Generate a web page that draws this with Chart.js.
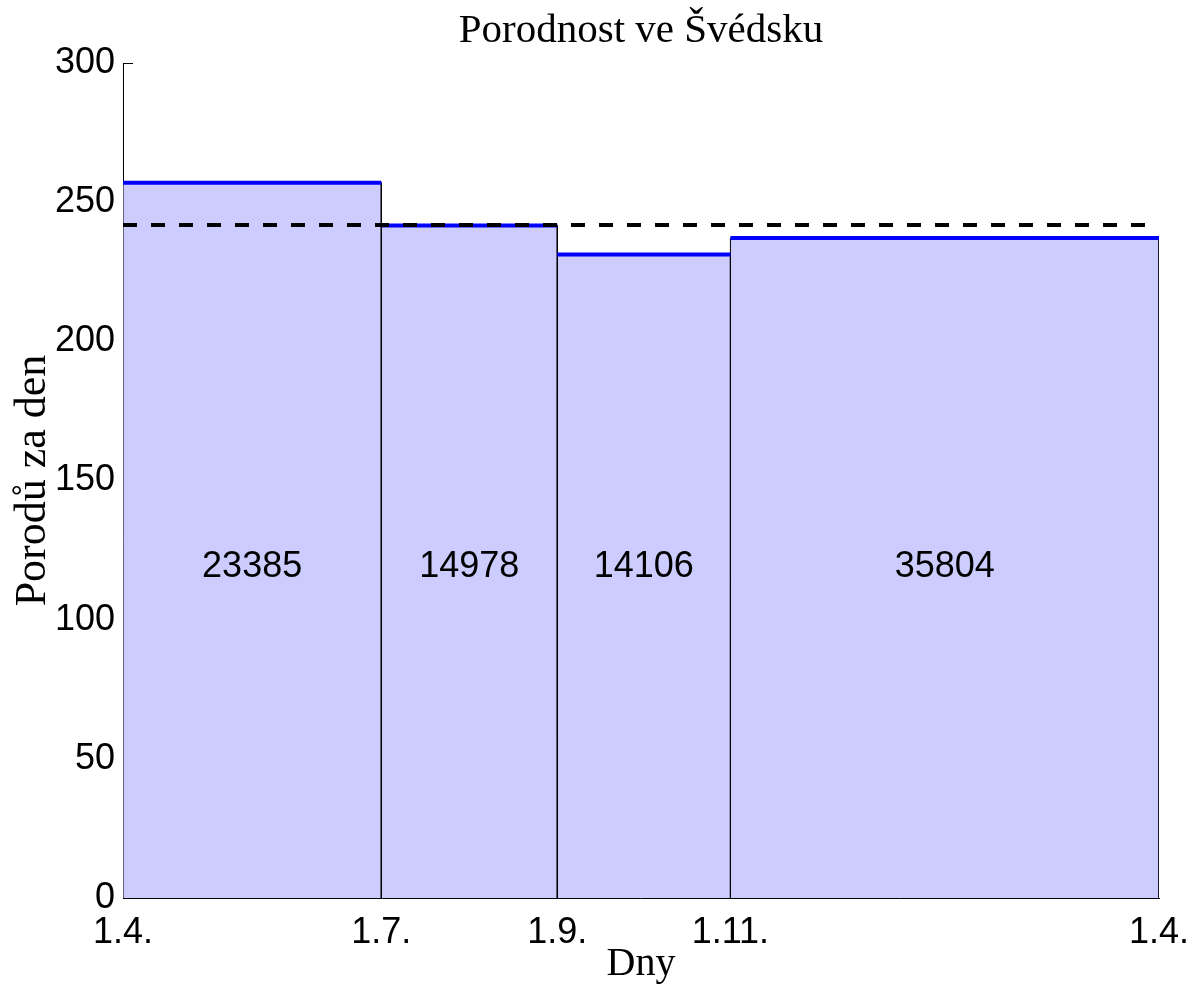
<!DOCTYPE html>
<html>
<head>
<meta charset="utf-8">
<script src="https://cdn.jsdelivr.net/npm/chart.js@4"></script>
<style>
  html, body { margin: 0; padding: 0; background: #fff; }
  canvas { display: block; }
</style>
</head>
<body>
<canvas id="birthChart" width="1193" height="984"></canvas>
<script>
// day offsets of the period edges, counted from 1 April
const edges = [0, 91, 153, 214, 365];
const edgeLabels = ['1.4.', '1.7.', '1.9.', '1.11.', '1.4.'];
// births per day in each period
const rates = [257.0, 241.6, 231.2, 237.1];
// total births in each period
const counts = [23385, 14978, 14106, 35804];
const meanRate = 241.8;
const yTicks = [0, 50, 100, 150, 200, 250, 300];

const sansFont = '"Liberation Sans", Arial, sans-serif';
const serifFont = '"Liberation Serif", "Times New Roman", serif';

const datasets = [];
rates.forEach((h, i) => {
    const x0 = edges[i], x1 = edges[i + 1];
    datasets.push({
        data: [{x: x0, y: 0}, {x: x0, y: h}, {x: x1, y: h}, {x: x1, y: 0}],
        borderColor: '#000',
        borderWidth: 1,
        backgroundColor: 'rgb(204, 204, 255)',
        fill: 'origin',
        pointRadius: 0,
        order: 3
    });
    datasets.push({
        data: [{x: x0, y: h}, {x: x1, y: h}],
        borderColor: '#0000ff',
        borderWidth: 4,
        fill: false,
        pointRadius: 0,
        order: 2
    });
});
datasets.push({
    data: [{x: edges[0], y: meanRate}, {x: edges[edges.length - 1], y: meanRate}],
    borderColor: '#000',
    borderWidth: 4,
    borderDash: [14, 14],
    fill: false,
    pointRadius: 0,
    order: 1
});

const textPlugin = {
    id: 'texts',
    afterDraw(chart) {
        const ctx = chart.ctx;
        const area = chart.chartArea;
        const xs = chart.scales.x, ys = chart.scales.y;
        ctx.save();
        ctx.fillStyle = '#000';

        // counts inside the bars
        ctx.font = '36px ' + sansFont;
        ctx.textAlign = 'center';
        ctx.textBaseline = 'middle';
        counts.forEach((c, i) => {
            const cx = xs.getPixelForValue((edges[i] + edges[i + 1]) / 2);
            ctx.fillText(String(c), cx, ys.getPixelForValue(119));
        });

        // small inward tick at the top of the y axis
        ctx.strokeStyle = '#000';
        ctx.lineWidth = 1;
        const ty = Math.round(ys.getPixelForValue(300)) + 0.5;
        ctx.beginPath();
        ctx.moveTo(area.left, ty);
        ctx.lineTo(area.left + 10, ty);
        ctx.stroke();

        // titles
        const midX = (area.left + area.right) / 2;
        ctx.textBaseline = 'alphabetic';
        ctx.font = '41px ' + serifFont;
        ctx.fillText('Porodnost ve Švédsku', midX, 42);
        ctx.font = '40px ' + serifFont;
        ctx.fillText('Dny', midX, 975);

        ctx.font = '44px ' + serifFont;
        ctx.translate(45, (area.top + area.bottom) / 2);
        ctx.rotate(-Math.PI / 2);
        ctx.fillText('Porodů za den', 0, 0);
        ctx.restore();
    }
};

new Chart(document.getElementById('birthChart'), {
    type: 'line',
    data: { datasets: datasets },
    options: {
        responsive: false,
        animation: false,
        layout: { padding: { top: 63, right: 34, bottom: 0, left: 0 } },
        plugins: {
            legend: { display: false },
            tooltip: { enabled: false },
            title: { display: false }
        },
        scales: {
            x: {
                type: 'linear',
                min: edges[0],
                max: edges[edges.length - 1],
                afterBuildTicks: (scale) => {
                    scale.ticks = edges.map(v => ({ value: v }));
                },
                afterFit: (scale) => {
                    scale.height = 86;
                    scale.paddingLeft = 0;
                    scale.paddingRight = 0;
                },
                ticks: {
                    autoSkip: false,
                    maxRotation: 0,
                    padding: 13,
                    color: '#000',
                    font: { family: sansFont, size: 36 },
                    callback: (value, index) => edgeLabels[index]
                },
                grid: { display: false, drawTicks: false },
                border: { display: true, color: '#000', width: 1 }
            },
            y: {
                min: 0,
                max: 300,
                afterBuildTicks: (scale) => {
                    scale.ticks = yTicks.map(v => ({ value: v }));
                },
                afterFit: (scale) => {
                    scale.width = 123;
                    scale.paddingTop = 0;
                    scale.paddingBottom = 0;
                },
                ticks: {
                    padding: 8,
                    color: '#000',
                    font: { family: sansFont, size: 36 }
                },
                grid: { display: false, drawTicks: false },
                border: { display: true, color: '#000', width: 1 }
            }
        }
    },
    plugins: [textPlugin]
});
</script>
</body>
</html>
